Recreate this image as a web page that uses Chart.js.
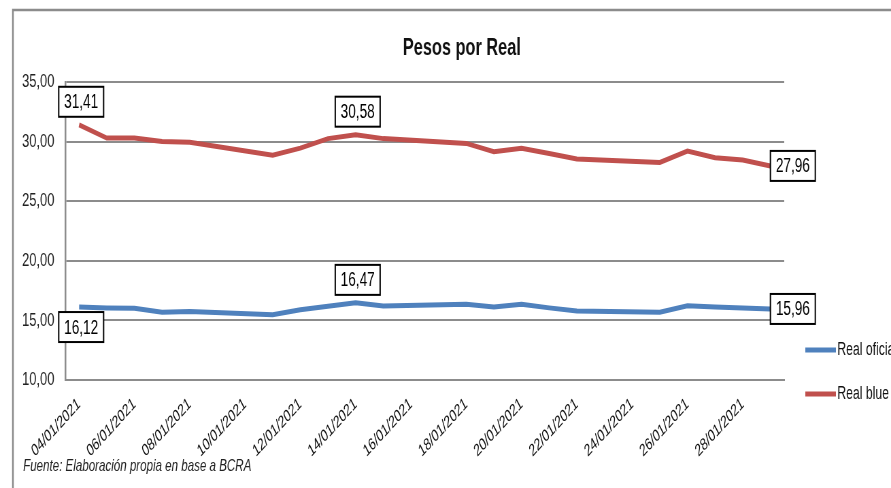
<!DOCTYPE html>
<html>
<head>
<meta charset="utf-8">
<script src="https://cdn.jsdelivr.net/npm/chart.js@4/dist/chart.umd.min.js"></script>
<style>
  html, body { margin: 0; padding: 0; overflow: hidden; background: #fff; }
  /* the original image is horizontally compressed, so the chart is drawn wider and squeezed */
  #wrap { width: 1310px; height: 488px; transform: scaleX(0.68015); transform-origin: 0 0; }
</style>
</head>
<body>
<div id="wrap"><canvas id="grafico"></canvas></div>
<script>
const fechas = [
  "04/01/2021", "05/01/2021", "06/01/2021", "07/01/2021", "08/01/2021", "09/01/2021", "10/01/2021",
  "11/01/2021", "12/01/2021", "13/01/2021", "14/01/2021", "15/01/2021", "16/01/2021", "17/01/2021",
  "18/01/2021", "19/01/2021", "20/01/2021", "21/01/2021", "22/01/2021", "23/01/2021", "24/01/2021",
  "25/01/2021", "26/01/2021", "27/01/2021", "28/01/2021", "29/01/2021"
];

// fines de semana sin cotizacion (null)
const realOficial = [
  16.12, 16.05, 16.02, 15.68, 15.75, null, null,
  15.48, 15.90, 16.18, 16.47, 16.20, null, null,
  16.35, 16.12, 16.35, 16.05, 15.78, null, null,
  15.68, 16.22, 16.12, 16.03, 15.96
];

const realBlue = [
  31.41, 30.30, 30.30, 30.00, 29.95, null, null,
  28.85, 29.45, 30.25, 30.58, 30.25, null, null,
  29.85, 29.15, 29.45, 29.00, 28.55, null, null,
  28.25, 29.20, 28.65, 28.45, 27.96
];

const yMin = 10;
const yMax = 35;
const yPaso = 5;

const titulo = "Pesos por Real";
const fuente = "Fuente: Elaboración propia en base a BCRA";

// valores con recuadro: serie, indice y donde va el recuadro
const recuadros = [
  { serie: 1, idx: 0, pos: "arriba" },
  { serie: 1, idx: 10, pos: "arriba" },
  { serie: 1, idx: 25, pos: "derecha" },
  { serie: 0, idx: 0, pos: "abajo" },
  { serie: 0, idx: 10, pos: "arriba" },
  { serie: 0, idx: 25, pos: "derecha" },
];

const FUENTE = "'Liberation Sans', Arial, sans-serif";
const GRIS = "#8c8c8c";

function coma(v) {
  return v.toFixed(2).replace(".", ",");
}

const extras = {
  id: "extras",
  beforeDraw(chart) {
    const ctx = chart.ctx;
    ctx.save();
    // marco
    ctx.strokeStyle = GRIS;
    ctx.lineWidth = 2.5;
    ctx.beginPath();
    ctx.moveTo(19, 488);
    ctx.lineTo(19, 10);
    ctx.lineTo(chart.width, 10);
    ctx.stroke();
    // titulo
    ctx.fillStyle = "#111";
    ctx.font = "bold 24px " + FUENTE;
    ctx.textAlign = "center";
    ctx.textBaseline = "middle";
    ctx.fillText(titulo, 679, 48);
    // fuente
    ctx.font = "italic 17px " + FUENTE;
    ctx.textAlign = "left";
    ctx.fillStyle = "#222";
    ctx.fillText(fuente, 34, 466);
    ctx.restore();
  },
  afterDatasetsDraw(chart) {
    const ctx = chart.ctx;
    ctx.save();
    // leyenda
    const ys = [350, 394];
    chart.data.datasets.forEach((ds, i) => {
      ctx.strokeStyle = ds.borderColor;
      ctx.lineWidth = 5;
      ctx.beginPath();
      ctx.moveTo(1184, ys[i]);
      ctx.lineTo(1229, ys[i]);
      ctx.stroke();
      ctx.fillStyle = "#111";
      ctx.font = "18px " + FUENTE;
      ctx.textAlign = "left";
      ctx.textBaseline = "middle";
      ctx.fillText(ds.label, 1231, ys[i]);
    });
    // recuadros con valores
    const w = 66, h = 30;
    recuadros.forEach((r) => {
      const pt = chart.getDatasetMeta(r.serie).data[r.idx];
      const valor = chart.data.datasets[r.serie].data[r.idx];
      let x, y;
      if (r.pos === "arriba") { x = pt.x + 3 - w / 2; y = pt.y - 8 - h; }
      else if (r.pos === "abajo") { x = pt.x + 3 - w / 2; y = pt.y + 5; }
      else { x = pt.x; y = pt.y - h / 2; }
      ctx.fillStyle = "#fff";
      ctx.fillRect(x, y, w, h);
      ctx.strokeStyle = "#000";
      ctx.lineWidth = 2;
      ctx.strokeRect(x, y, w, h);
      ctx.fillStyle = "#000";
      ctx.font = "20px " + FUENTE;
      ctx.textAlign = "center";
      ctx.textBaseline = "middle";
      ctx.fillText(coma(valor), x + w / 2, y + h / 2 + 1);
    });
    ctx.restore();
  },
};

new Chart(document.querySelector("#grafico"), {
  type: "line",
  data: {
    labels: fechas,
    datasets: [
      {
        label: "Real oficial",
        data: realOficial,
        borderColor: "#4F81BD",
        backgroundColor: "#4F81BD",
        borderWidth: 5,
        pointRadius: 0,
        spanGaps: true,
        tension: 0,
      },
      {
        label: "Real blue",
        data: realBlue,
        borderColor: "#C0504D",
        backgroundColor: "#C0504D",
        borderWidth: 5,
        pointRadius: 0,
        spanGaps: true,
        tension: 0,
      },
    ],
  },
  options: {
    responsive: true,
    maintainAspectRatio: false,
    animation: false,
    layout: { padding: { top: 82, right: 157, bottom: 0, left: 0 } },
    plugins: {
      legend: { display: false },
      title: { display: false },
      tooltip: { enabled: false },
    },
    scales: {
      x: {
        type: "category",
        offset: true,
        grid: { display: false, drawTicks: false },
        border: { display: true, color: GRIS, width: 2 },
        afterFit(scale) { scale.height = 108; },
        ticks: {
          autoSkip: false,
          minRotation: 37,
          maxRotation: 37,
          padding: 14,
          color: "#111",
          font: { family: FUENTE, size: 17 },
          callback(value, index) {
            return index % 2 === 0 ? this.getLabelForValue(value) : "";
          },
        },
      },
      y: {
        min: yMin,
        max: yMax,
        grid: { color: GRIS, lineWidth: 2, drawTicks: false },
        border: { display: true, color: GRIS, width: 2.5 },
        afterFit(scale) { scale.width = 96; },
        ticks: {
          stepSize: yPaso,
          padding: 16,
          color: "#222",
          font: { family: FUENTE, size: 19 },
          callback: (v) => coma(v),
        },
      },
    },
  },
  plugins: [extras],
});
</script>
</body>
</html>
